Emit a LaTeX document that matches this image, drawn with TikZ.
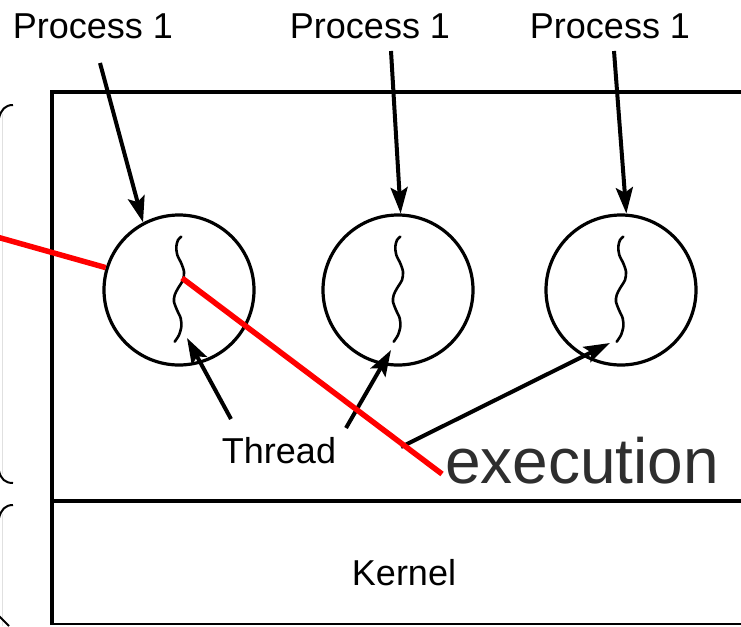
\documentclass[tikz,border=0pt]{standalone}
\usepackage{fontspec}
\setmainfont{Liberation Sans}
\usetikzlibrary{arrows.meta}
\begin{document}
\begin{tikzpicture}[x=1pt,y=-1pt,
  procbox/.style={circle,draw,line width=3.2pt,minimum size=150pt,inner sep=0pt},
  lbl/.style={inner sep=0pt,anchor=base,font=\fontsize{36}{40}\selectfont},
  ptr/.style={line width=4pt,-{Stealth[length=26pt,width=17pt,inset=5pt]}},
  hilite/.style={red,line width=5.5pt},
  threadline/.style={line width=2.6pt,line cap=round},
  hook/.style={line width=2pt}]
  \useasboundingbox (0,0) rectangle (741,626);
  \clip (0,0) rectangle (741,626);

  % outer frame: user space above, kernel below
  \draw[line width=4pt] (760,92) -- (52,92) -- (52,625);
  \draw[line width=4pt] (52,501) -- (760,501);
  \draw[line width=2pt] (52,623.5) -- (760,623.5);

  % braces on the left edge
  \draw[black!12,line width=1pt] (2,114) -- (2,474) (2,514) -- (2,626);
  \draw[hook] (13,105) .. controls (5,105) and (1,110) .. (-1,118);
  \draw[hook] (-1,471) .. controls (1,479) and (5,483) .. (13,483);
  \draw[hook] (13,505) .. controls (5,505) and (1,510) .. (-1,518);
  \draw[hook] (-1,616) -- (9,626);

  % processes
  \node[procbox] (c1) at (179,290) {};
  \node[procbox] (c2) at (398,290) {};
  \node[procbox] (c3) at (621,290) {};

  % one thread inside each process
  \foreach \c in {c1,c2,c3}{
    \begin{scope}[shift={(\c.center)}]
      \draw[threadline] plot[smooth] coordinates {
        (2.3,-53.3) (-1,-50) (-2.7,-43.3) (-1.7,-35) (2.3,-26.7) (5,-18.3)
        (4,-10) (-1,-1.7) (-4.3,5) (-5,11.7) (-2,20) (1.7,28.3)
        (2.3,36.7) (0,45) (-4.3,51.7)};
    \end{scope}
  }

  % labels
  \node[lbl] (p1) at (93,38) {Process 1};
  \node[lbl] (p2) at (370,38) {Process 1};
  \node[lbl] (p3) at (610,38) {Process 1};
  \node[lbl] (thr) at (279,463) {Thread};
  \node[lbl] (ker) at (404,585) {Kernel};
  \node[inner sep=0pt,anchor=base west,text=black!82,
        font=\fontsize{64}{70}\selectfont] (exe) at (445,483) {execution};

  % arrow anchors
  \coordinate (a1) at (100,63);
  \coordinate (a2) at (391,51);
  \coordinate (a3) at (614,51);
  \coordinate (t1) at (231,419);
  \coordinate (t2) at (346,428);
  \coordinate (t3) at (401,447);
  \coordinate (h1) at (187,338);
  \coordinate (h2) at (391,350);
  \coordinate (h3) at (610,343);

  \draw[ptr] (a1) -- (c1.118);
  \draw[ptr] (a2) -- (c2.88);
  \draw[ptr] (a3) -- (c3.86);
  \draw[ptr] (t1) -- (h1);
  \draw[ptr] (t2) -- (h2);
  \draw[ptr] (t3) -- (h3);

  % highlighted path of execution
  \coordinate (r0) at (-3,237);
  \coordinate (r2) at (182,278);
  \coordinate (r3) at (442,474);
  \draw[hilite] (r0) -- (c1.163);
  \draw[hilite] (r2) -- (r3);
\end{tikzpicture}
\end{document}
